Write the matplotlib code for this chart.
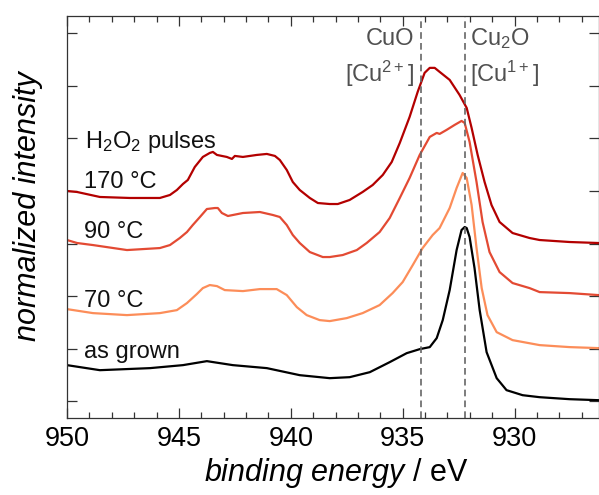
import matplotlib
matplotlib.use("Agg")
import matplotlib.pyplot as plt
from matplotlib.ticker import MultipleLocator

plt.rcParams['font.family'] = ['Liberation Sans', 'DejaVu Sans']
plt.rcParams['mathtext.fontset'] = 'custom'
plt.rcParams['mathtext.rm'] = 'Liberation Sans'
plt.rcParams['mathtext.it'] = 'Liberation Sans:italic'

# ---- data (binding energy in eV, normalized intensity, offset stacked) ----
energy_170 = [950.00, 949.55, 948.53, 947.19, 945.85, 945.40, 945.09, 944.82, 944.60, 944.29,
              943.93, 943.62, 943.48, 943.30, 942.86, 942.63, 942.50, 942.14, 941.52, 941.07,
              940.71, 940.49, 940.18, 939.91, 939.60, 939.15, 938.79, 938.26, 937.90, 937.37,
              936.79, 936.34, 935.89, 935.49, 935.13, 934.69, 934.33, 934.02, 933.79, 933.57,
              933.35, 932.90, 932.46, 932.14, 931.92, 931.65, 931.34, 931.03, 930.67, 930.09,
              929.33, 928.88, 927.54, 926.25]
int_170 = [4.000, 3.981, 3.886, 3.867, 3.867, 3.924, 4.019, 4.133, 4.210, 4.457,
           4.648, 4.724, 4.743, 4.686, 4.648, 4.610, 4.667, 4.648, 4.686, 4.705,
           4.667, 4.590, 4.400, 4.171, 4.019, 3.867, 3.771, 3.752, 3.752, 3.829,
           3.981, 4.114, 4.305, 4.552, 4.914, 5.410, 5.886, 6.248, 6.343, 6.343,
           6.267, 6.114, 5.829, 5.581, 5.200, 4.686, 4.171, 3.733, 3.410, 3.200,
           3.105, 3.067, 3.029, 3.010]

energy_90 = [950.00, 949.55, 948.84, 947.32, 945.85, 945.40, 944.96, 944.64, 944.38, 944.06,
             943.75, 943.39, 943.26, 943.08, 942.81, 942.14, 941.38, 940.80, 940.49, 940.18,
             939.91, 939.60, 939.15, 938.57, 938.26, 937.68, 937.05, 936.61, 936.03, 935.58,
             935.13, 934.69, 934.24, 933.79, 933.48, 933.35, 933.04, 932.68, 932.37, 932.23,
             932.01, 931.70, 931.43, 931.12, 930.67, 930.09, 929.33, 928.88, 927.54, 926.25]
int_90 = [3.067, 3.010, 2.971, 2.876, 2.914, 2.971, 3.105, 3.219, 3.352, 3.505,
          3.657, 3.676, 3.676, 3.581, 3.524, 3.581, 3.600, 3.543, 3.505, 3.352,
          3.162, 3.010, 2.838, 2.743, 2.743, 2.781, 2.876, 3.010, 3.219, 3.486,
          3.867, 4.248, 4.686, 5.029, 5.105, 5.086, 5.162, 5.257, 5.333, 5.295,
          4.933, 4.171, 3.410, 2.838, 2.457, 2.248, 2.152, 2.076, 2.057, 2.019]

energy_70 = [950.00, 948.84, 947.32, 945.85, 945.09, 944.64, 944.20, 943.93, 943.62, 943.30,
             942.95, 942.14, 941.38, 940.63, 940.18, 939.73, 939.29, 938.71, 938.26, 937.50,
             936.79, 936.03, 935.45, 935.00, 934.55, 934.11, 933.66, 933.35, 932.90, 932.59,
             932.32, 932.14, 931.92, 931.70, 931.47, 931.21, 930.80, 930.09, 928.88, 927.54,
             926.25]
int_70 = [1.752, 1.676, 1.638, 1.676, 1.733, 1.867, 2.038, 2.152, 2.210, 2.190,
          2.114, 2.095, 2.133, 2.133, 2.019, 1.790, 1.638, 1.543, 1.524, 1.581,
          1.676, 1.829, 2.057, 2.267, 2.590, 2.914, 3.162, 3.295, 3.676, 4.057,
          4.343, 4.248, 3.733, 2.914, 2.152, 1.638, 1.314, 1.162, 1.067, 1.029,
          1.010]

energy_ag = [950.00, 948.53, 946.29, 944.82, 943.75, 942.59, 941.07, 939.60, 938.26, 937.37,
             936.47, 935.58, 934.82, 934.24, 933.79, 933.48, 933.21, 932.90, 932.59, 932.37,
             932.23, 932.14, 932.01, 931.79, 931.56, 931.25, 930.80, 930.36, 929.64, 928.88,
             927.54, 926.25]
int_ag = [0.686, 0.590, 0.629, 0.686, 0.762, 0.686, 0.629, 0.495, 0.438, 0.457,
          0.552, 0.743, 0.914, 0.990, 1.029, 1.200, 1.543, 2.114, 2.876, 3.257,
          3.314, 3.295, 3.124, 2.533, 1.733, 0.933, 0.438, 0.210, 0.114, 0.076,
          0.038, 0.019]

series = [
    ("as grown", energy_ag, int_ag, "#000000", 0.82),
    ("70 °C", energy_70, int_70, "#fc8d59", 1.80),
    ("90 °C", energy_90, int_90, "#e34a33", 3.11),
    ("170 °C", energy_170, int_170, "#b30000", 4.06),
]
ref_lines = [934.2, 932.2]
ref_top = ["CuO", "Cu$_2$O"]
ref_bottom = ["[Cu$^{2+}$]", "[Cu$^{1+}$]"]
xticks = [950, 945, 940, 935, 930]

# ---- figure ----
fig = plt.figure(figsize=(5.99, 4.95), dpi=100)
ax = fig.add_axes([67 / 599, 1 - 418 / 495, 531.5 / 599, (418 - 16) / 495])

for name, e, v, c, ly in series:
    ax.plot(e, v, color=c, lw=1.6, solid_joinstyle='round')
    ax.text(949.25, ly, name, fontsize=17, ha='left', va='baseline', color='#111111')
ax.text(949.2, 4.82, "H$_2$O$_2$ pulses", fontsize=17, ha='left', va='baseline', color='#111111')

for xr in ref_lines:
    ax.axvline(xr, color='#666666', lw=1.2, ls=(0, (4, 2.5)))

ax.text(934.5, 6.78, ref_top[0], fontsize=17, ha='right', va='baseline', color='#505050')
ax.text(934.5, 6.07, ref_bottom[0], fontsize=17, ha='right', va='baseline', color='#505050')
ax.text(931.98, 6.78, ref_top[1], fontsize=17, ha='left', va='baseline', color='#505050')
ax.text(931.98, 6.07, ref_bottom[1], fontsize=17, ha='left', va='baseline', color='#505050')

ax.set_xlim(950, 926.25)
ax.set_ylim(-0.32, 7.33)
ax.set_xticks(xticks)
ax.xaxis.set_minor_locator(MultipleLocator(1))
ax.set_yticks(range(0, 8))
ax.set_yticklabels([])
ax.tick_params(which='both', direction='in', top=True, right=True, color='#333333', width=0.9)
ax.tick_params(which='major', length=7, labelsize=19.5, pad=6)
ax.tick_params(which='minor', length=4)
for s in ax.spines.values():
    s.set_color('#333333')
    s.set_linewidth(0.9)

ax.set_xlabel(r"$\mathit{binding\ energy}$ / eV", fontsize=22, labelpad=2)
ax.xaxis.set_label_coords(0.506, -0.095)
ax.set_ylabel("normalized intensity", fontsize=22, style='italic')
ax.yaxis.set_label_coords(-0.045, 0.527)

fig.savefig("out.png", dpi=100)
